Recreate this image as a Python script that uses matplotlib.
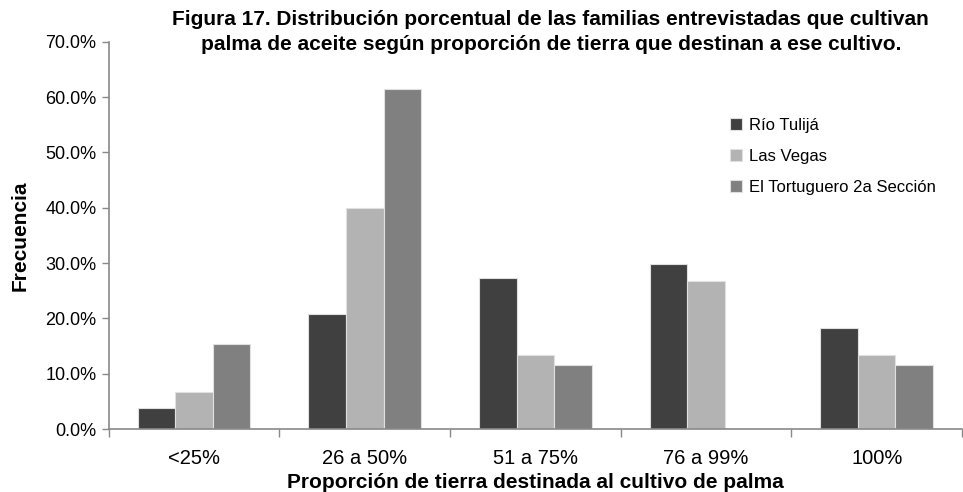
import matplotlib
matplotlib.use("Agg")
import matplotlib.pyplot as plt
import numpy as np
from matplotlib.ticker import FuncFormatter

categories = ["<25%", "26 a 50%", "51 a 75%", "76 a 99%", "100%"]
series_names = ["Río Tulijá", "Las Vegas", "El Tortuguero 2a Sección"]
rio_tulija = [3.8, 20.8, 27.3, 29.9, 18.2]
las_vegas = [6.7, 40.0, 13.3, 26.7, 13.3]
tortuguero = [15.4, 61.5, 11.5, 0.0, 11.5]
colors = ["#404040", "#b3b3b3", "#808080"]

plt.rcParams['font.family'] = ['Liberation Sans', 'DejaVu Sans']

fig = plt.figure(figsize=(9.63, 4.92), dpi=100)
ax = fig.add_axes([0.113, 0.128, 0.886, 0.787])

x = np.arange(len(categories))
w = 0.22
for i, (vals, name, c) in enumerate(zip([rio_tulija, las_vegas, tortuguero], series_names, colors)):
    ax.bar(x + (i - 1) * w, vals, width=w, color=c, edgecolor="#e0e0e0", linewidth=0.8, label=name)

ax.set_xlim(-0.5, len(categories) - 0.5)
ax.set_ylim(0, 70)
ax.set_yticks(np.arange(0, 71, 10))
ax.yaxis.set_major_formatter(FuncFormatter(lambda v, p: f"{v:.1f}%"))
ax.set_xticks(x)
ax.set_xticklabels(categories, fontsize=14.5)
ax.set_xticks(np.arange(-0.5, len(categories), 1), minor=True)
ax.tick_params(axis='x', which='major', length=0, pad=14.5)
ax.tick_params(axis='x', which='minor', length=6, color="#898989", width=1)
ax.tick_params(axis='y', labelsize=13, length=5, color="#898989", width=1, pad=4)

for s in ["top", "right"]:
    ax.spines[s].set_visible(False)
for s in ["left", "bottom"]:
    ax.spines[s].set_color("#898989")
    ax.spines[s].set_linewidth(1.2)

ax.set_ylabel("Frecuencia", fontsize=15, fontweight="bold", labelpad=11)
ax.set_xlabel("Proporción de tierra destinada al cultivo de palma", fontsize=15, fontweight="bold", labelpad=3.5)

fig.text(0.572, 0.98, "Figura 17. Distribución porcentual de las familias entrevistadas que cultivan\n"
         "palma de aceite según proporción de tierra que destinan a ese cultivo.",
         ha="center", va="top", fontsize=15, fontweight="bold", linespacing=1.4)

ax.legend(loc="upper left", bbox_to_anchor=(0.711, 0.842), frameon=False, fontsize=12,
          handlelength=0.7, handleheight=0.7, handletextpad=0.4, labelspacing=0.95)

fig.savefig("out.png", dpi=100)
